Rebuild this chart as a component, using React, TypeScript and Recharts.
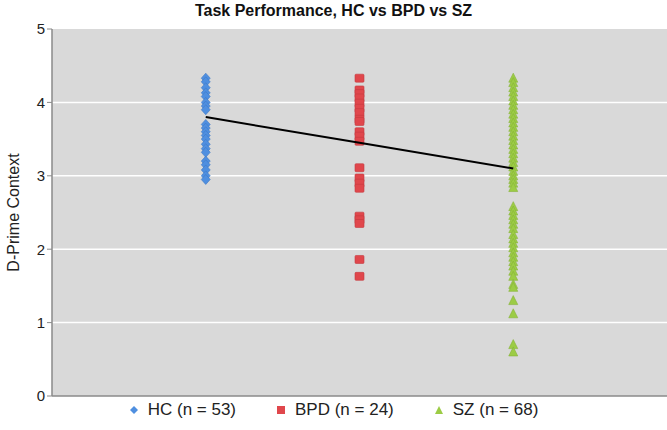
import { ScatterChart, Scatter, XAxis, YAxis, CartesianGrid, Legend } from 'recharts';

const groups = ['HC (n = 53)', 'BPD (n = 24)', 'SZ (n = 68)'];
const colors = ['#4f8fe0', '#e0474c', '#9ccc45'];

const hcValues = [4.33, 4.28, 4.2, 4.13, 4.08, 4.0, 3.95, 3.9, 3.7, 3.65, 3.6, 3.55, 3.5, 3.43, 3.37, 3.32, 3.2, 3.15, 3.08, 3.0, 2.95];
const bpdValues = [4.33, 4.17, 4.12, 4.06, 3.99, 3.92, 3.86, 3.77, 3.74, 3.6, 3.54, 3.47, 3.11, 2.97, 2.9, 2.83, 2.45, 2.4, 2.35, 1.86, 1.63];
const szValues = [
  4.33, 4.27, 4.2, 4.14, 4.08, 4.02, 3.96, 3.9, 3.84, 3.78, 3.72, 3.66, 3.6, 3.54, 3.48, 3.42, 3.36, 3.3,
  3.24, 3.18, 3.12, 3.06, 3.0, 2.95, 2.9, 2.84, 2.58, 2.52, 2.46, 2.4, 2.34, 2.28, 2.2, 2.14, 2.08, 2.02,
  1.95, 1.89, 1.83, 1.77, 1.7, 1.63, 1.52, 1.48, 1.3, 1.12, 0.7, 0.6,
];
const means = [3.8, 3.45, 3.1];

const yTicks = [0, 1, 2, 3, 4, 5];

const toPoints = (vals: number[], x: number) => vals.map((y) => ({ x, y }));
const meanPoints = means.map((y, i) => ({ x: i + 1, y }));

const font = 'Arial, "Liberation Sans", Helvetica, sans-serif';

const Diamond = (p: any) => (
  <polygon points={`${p.cx},${p.cy - 5} ${p.cx + 4.5},${p.cy} ${p.cx},${p.cy + 5} ${p.cx - 4.5},${p.cy}`} fill={colors[0]} stroke="#3f78c4" strokeWidth={0.6} />
);
const Square = (p: any) => (
  <rect x={p.cx - 4.5} y={p.cy - 4} width={9} height={8} rx={1} fill={colors[1]} stroke="#c43a3f" strokeWidth={0.6} />
);
const Triangle = (p: any) => (
  <polygon points={`${p.cx},${p.cy - 5} ${p.cx + 4.5},${p.cy + 4} ${p.cx - 4.5},${p.cy + 4}`} fill={colors[2]} stroke="#86b438" strokeWidth={0.6} />
);

const legendIcon = (i: number) => {
  if (i === 0) return <polygon points="5,1 9,5 5,9 1,5" fill={colors[0]} />;
  if (i === 1) return <rect x={1} y={1} width={8} height={8} fill={colors[1]} />;
  return <polygon points="5,1 9,9 1,9" fill={colors[2]} />;
};

const renderLegend = () => (
  <div style={{ display: 'flex', justifyContent: 'center', gap: 40, fontSize: 17, fontFamily: font, color: '#222' }}>
    {groups.map((g, i) => (
      <div key={g} style={{ display: 'flex', alignItems: 'center' }}>
        <svg width={10} height={10} style={{ marginRight: 9 }}>
          {legendIcon(i)}
        </svg>
        <span>{g}</span>
      </div>
    ))}
  </div>
);

export default function App() {
  return (
    <div style={{ position: 'absolute', left: 0, top: 0, width: 667, height: 430, background: '#fff', fontFamily: font }}>
      <div
        style={{
          position: 'absolute',
          top: 2,
          left: 0,
          width: 667,
          textAlign: 'center',
          fontWeight: 'bold',
          fontSize: 16,
          color: '#111',
        }}
      >
        Task Performance, HC vs BPD vs SZ
      </div>
      <ScatterChart width={667} height={430} margin={{ top: 29, right: 0, left: 0, bottom: 10 }}>
        <CartesianGrid vertical={false} stroke="#ffffff" strokeWidth={1.5} fill="#d9d9d9" horizontalValues={[1, 2, 3, 4]} />
        <XAxis type="number" dataKey="x" domain={[0, 4]} tick={false} tickLine={false} height={1} axisLine={{ stroke: '#8a8a8a', strokeWidth: 1.5 }} />
        <YAxis
          type="number"
          dataKey="y"
          domain={[0, 5]}
          ticks={yTicks}
          width={52}
          tickSize={5}
          tickLine={{ stroke: '#8a8a8a' }}
          axisLine={{ stroke: '#8a8a8a', strokeWidth: 1.5 }}
          tick={{ fill: '#222', fontSize: 15, fontFamily: font }}
          label={{ value: 'D-Prime Context', angle: -90, position: 'insideLeft', offset: 13, style: { textAnchor: 'middle', fill: '#222', fontSize: 16, fontFamily: font } }}
        />
        <Legend verticalAlign="bottom" content={renderLegend} wrapperStyle={{ paddingTop: 3 }} />
        <Scatter name={groups[0]} data={toPoints(hcValues, 1)} fill={colors[0]} shape={Diamond} isAnimationActive={false} />
        <Scatter name={groups[1]} data={toPoints(bpdValues, 2)} fill={colors[1]} shape={Square} isAnimationActive={false} />
        <Scatter name={groups[2]} data={toPoints(szValues, 3)} fill={colors[2]} shape={Triangle} isAnimationActive={false} />
        <Scatter
          name="mean"
          data={meanPoints}
          line={{ stroke: '#000', strokeWidth: 2 }}
          shape={() => null}
          legendType="none"
          isAnimationActive={false}
        />
      </ScatterChart>
    </div>
  );
}
